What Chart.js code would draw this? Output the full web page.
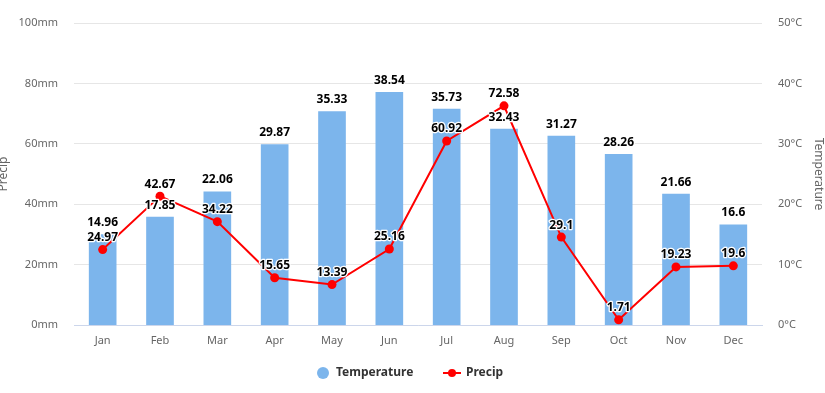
<!DOCTYPE html>
<html>
<head>
<meta charset="utf-8">
<script src="https://cdn.jsdelivr.net/npm/chart.js@4/dist/chart.umd.min.js"></script>
<style>
html,body{margin:0;padding:0;background:#fff;}
#wrap{width:825px;height:393px;position:relative;}
</style>
</head>
<body>
<div id="wrap"><canvas id="c" width="825" height="393"></canvas></div>
<script>
const categories = ['Jan','Feb','Mar','Apr','May','Jun','Jul','Aug','Sep','Oct','Nov','Dec'];
const temperature = [14.96,17.85,22.06,29.87,35.33,38.54,35.73,32.43,31.27,28.26,21.66,16.6];
const precip = [24.97,42.67,34.22,15.65,13.39,25.16,60.92,72.58,29.1,1.71,19.23,19.6];
const precipTicks = [0,20,40,60,80,100];
const tempTicks = [0,10,20,30,40,50];

const FONT = '"Noto Sans", "DejaVu Sans", sans-serif';

const labelPlugin = {
  id: 'labels',
  afterDatasetsDraw(chart) {
    const ctx = chart.ctx;
    ctx.save();
    ctx.font = 'bold 12px ' + FONT;
    ctx.textAlign = 'center';
    ctx.textBaseline = 'middle';
    ctx.lineJoin = 'round';
    [0,1].forEach(di => {
      const meta = chart.getDatasetMeta(di);
      const data = chart.data.datasets[di].data;
      meta.data.forEach((el, i) => {
        const txt = String(data[i]);
        const y = el.y - 12;
        ctx.strokeStyle = '#ffffff';
        ctx.lineWidth = 2.5;
        ctx.strokeText(txt, el.x, y);
        ctx.fillStyle = '#000000';
        ctx.fillText(txt, el.x, y);
      });
    });
    ctx.restore();
  },
  afterDraw(chart) {
    const ctx = chart.ctx;
    const ca = chart.chartArea;
    const midY = (ca.top + ca.bottom) / 2;
    ctx.save();
    // axis titles
    ctx.fillStyle = '#666666';
    ctx.font = '12px ' + FONT;
    ctx.textAlign = 'center';
    ctx.textBaseline = 'middle';
    ctx.save();
    ctx.translate(4, midY);
    ctx.rotate(-Math.PI / 2);
    ctx.fillText('Precip', 0, 0);
    ctx.restore();
    ctx.save();
    ctx.translate(818, midY);
    ctx.rotate(Math.PI / 2);
    ctx.fillText('Temperature', 0, 0);
    ctx.restore();
    // legend
    const ly = 373;
    ctx.font = 'bold 12px ' + FONT;
    ctx.textAlign = 'left';
    ctx.fillStyle = '#7cb5ec';
    ctx.beginPath();
    ctx.arc(323, ly, 6, 0, Math.PI * 2);
    ctx.fill();
    ctx.fillStyle = '#333333';
    ctx.fillText('Temperature', 336, ly);
    ctx.strokeStyle = '#ff0000';
    ctx.lineWidth = 2;
    ctx.beginPath();
    ctx.moveTo(443, ly);
    ctx.lineTo(461, ly);
    ctx.stroke();
    ctx.fillStyle = '#ff0000';
    ctx.beginPath();
    ctx.arc(452, ly, 4, 0, Math.PI * 2);
    ctx.fill();
    ctx.fillStyle = '#333333';
    ctx.fillText('Precip', 466, ly);
    ctx.restore();
  }
};

new Chart(document.getElementById('c'), {
  data: {
    labels: categories,
    datasets: [
      {
        type: 'bar',
        label: 'Temperature',
        data: temperature,
        yAxisID: 'yT',
        backgroundColor: '#7cb5ec',
        borderWidth: 0,
        barThickness: 27,
        order: 2
      },
      {
        type: 'line',
        label: 'Precip',
        data: precip,
        yAxisID: 'yP',
        borderColor: '#ff0000',
        backgroundColor: '#ff0000',
        borderWidth: 2,
        pointRadius: 4.5,
        pointBackgroundColor: '#ff0000',
        pointBorderWidth: 0,
        tension: 0,
        order: 1
      }
    ]
  },
  options: {
    responsive: false,
    animation: false,
    devicePixelRatio: 1,
    layout: { padding: { top: 23, left: 0, right: 0, bottom: 0 } },
    plugins: { legend: { display: false }, tooltip: { enabled: false } },
    scales: {
      x: {
        grid: { display: false, drawTicks: false },
        border: { display: true, color: '#ccd6eb', width: 1 },
        ticks: { color: '#666666', font: { family: FONT, size: 11 }, padding: 9, maxRotation: 0 },
        afterFit(s) { s.height = 68; }
      },
      yP: {
        position: 'left',
        min: 0, max: 100,
        afterBuildTicks(s) { s.ticks = precipTicks.map(v => ({ value: v })); },
        grid: { color: '#e6e6e6', drawTicks: false },
        border: { display: false },
        ticks: { color: '#666666', font: { family: FONT, size: 11 }, padding: 16, callback: v => v + 'mm' },
        afterFit(s) { s.width = 74; }
      },
      yT: {
        position: 'right',
        min: 0, max: 50,
        afterBuildTicks(s) { s.ticks = tempTicks.map(v => ({ value: v })); },
        grid: { display: false, drawTicks: false },
        border: { display: false },
        ticks: { color: '#666666', font: { family: FONT, size: 11 }, padding: 16, callback: v => v + '°C' },
        afterFit(s) { s.width = 63; }
      }
    }
  },
  plugins: [labelPlugin]
});
</script>
</body>
</html>
